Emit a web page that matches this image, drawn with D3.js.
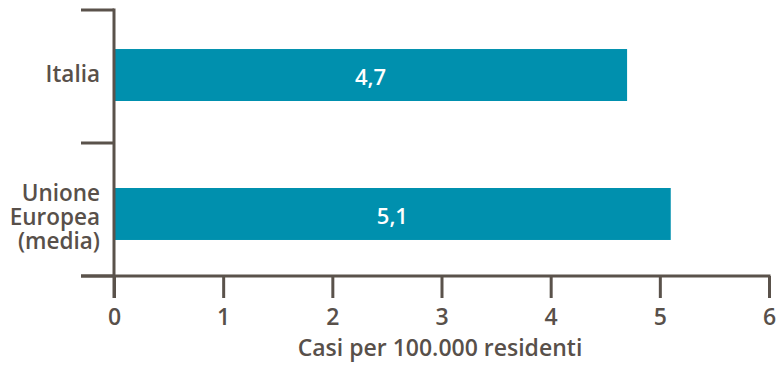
<!DOCTYPE html>
<html>
<head>
<meta charset="utf-8">
<script src="https://cdn.jsdelivr.net/npm/d3@7"></script>
<style>
    body { margin: 0; background: #fff; }
    svg text { font-family: 'Open Sans', sans-serif; fill: #58504a; }
</style>
</head>
<body>
<svg width="776" height="366"></svg>
<script>
// data
let categories = ['Italia', 'Unione Europea (media)'];
let categoryLines = [['Italia'], ['Unione', 'Europea', '(media)']];
let values = [4.7, 5.1];
let xTicks = [0, 1, 2, 3, 4, 5, 6];

function main() {
    let svg = d3.select('svg'),
        margin = { top: 10, bottom: 90, left: 114, right: 7 },
        width = svg.attr('width') - margin.left - margin.right,
        height = svg.attr('height') - margin.top - margin.bottom;

    let axisColor = '#5a524b';
    let formatComma = d3.formatLocale({ decimal: ',', thousands: '.', grouping: [3], currency: ['', '€'] }).format('.1f');

    //Scales
    let xScale = d3.scaleLinear().domain([0, 6]).range([margin.left, margin.left + width]),
        yScale = d3.scaleBand().domain(categories).range([margin.top, margin.top + height])
            .paddingInner(0.626).paddingOuter(0.27).align(0.52);
    let band = d3.scaleBand().domain(categories).range([margin.top, margin.top + height]);

    let data = categories.map((c, i) => ({ cat: c, value: values[i], lines: categoryLines[i] }));

    //Bars
    svg.selectAll('rect.bar')
        .data(data)
        .enter()
        .append('rect')
        .attr('class', 'bar')
        .attr('x', xScale(0))
        .attr('y', (d) => yScale(d.cat))
        .attr('width', (d) => xScale(d.value) - xScale(0))
        .attr('height', yScale.bandwidth())
        .attr('fill', '#0090ae');

    //Value labels
    svg.selectAll('text.val')
        .data(data)
        .enter()
        .append('text')
        .attr('class', 'val')
        .attr('x', (d) => (xScale(0) + xScale(d.value)) / 2)
        .attr('y', (d) => yScale(d.cat) + yScale.bandwidth() / 2 + 10)
        .attr('text-anchor', 'middle')
        .style('font-size', '22px')
        .style('font-weight', 600)
        .style('fill', '#fff')
        .text((d) => formatComma(d.value));

    //Y axis: line + separators between categories
    let y0 = margin.top, y1 = margin.top + height;
    svg.append('line')
        .attr('x1', xScale(0)).attr('x2', xScale(0))
        .attr('y1', y0 - 1.5).attr('y2', y1 + 22)
        .attr('stroke', axisColor).attr('stroke-width', 3);
    let seps = [y0].concat(categories.map((c) => band(c) + band.bandwidth()));
    svg.selectAll('line.sep')
        .data(seps)
        .enter()
        .append('line')
        .attr('class', 'sep')
        .attr('x1', xScale(0) - 33).attr('x2', xScale(0))
        .attr('y1', (d) => d).attr('y2', (d) => d)
        .attr('stroke', axisColor).attr('stroke-width', 3);

    //Category labels
    let lineH = 24;
    svg.selectAll('text.cat')
        .data(data)
        .enter()
        .append('text')
        .attr('class', 'cat')
        .attr('text-anchor', 'end')
        .style('font-size', '22.5px')
        .style('font-weight', 600)
        .each(function (d) {
            let cy = yScale(d.cat) + yScale.bandwidth() / 2;
            let n = d.lines.length;
            let off = n > 1 ? 11 : 7;
            d3.select(this).selectAll('tspan')
                .data(d.lines)
                .enter()
                .append('tspan')
                .attr('x', xScale(0) - 14)
                .attr('y', (l, i) => cy + (i - (n - 1) / 2) * lineH + off)
                .text((l) => l);
        });

    //X axis
    let xAxis = svg.append('g')
        .attr('transform', 'translate(0,' + y1 + ')')
        .call(d3.axisBottom(xScale).tickValues(xTicks).tickSize(22).tickPadding(11).tickFormat(d3.format('d')));
    xAxis.select('.domain').remove();
    xAxis.selectAll('.tick line').attr('stroke', axisColor).attr('stroke-width', 3);
    xAxis.selectAll('.tick text')
        .style('font-size', '23px')
        .style('font-weight', 600)
        .attr('fill', '#58504a')
        .style('font-family', "'Open Sans', sans-serif");
    svg.append('line')
        .attr('x1', xScale(0) - 33).attr('x2', xScale(6) + 1.5)
        .attr('y1', y1).attr('y2', y1)
        .attr('stroke', axisColor).attr('stroke-width', 3);

    //Axis title
    svg.append('text')
        .attr('text-anchor', 'middle')
        .attr('x', 440)
        .attr('y', y1 + 80)
        .style('font-size', '23px')
        .style('font-weight', 600)
        .text('Casi per 100.000 residenti');
}

main();
</script>
</body>
</html>
